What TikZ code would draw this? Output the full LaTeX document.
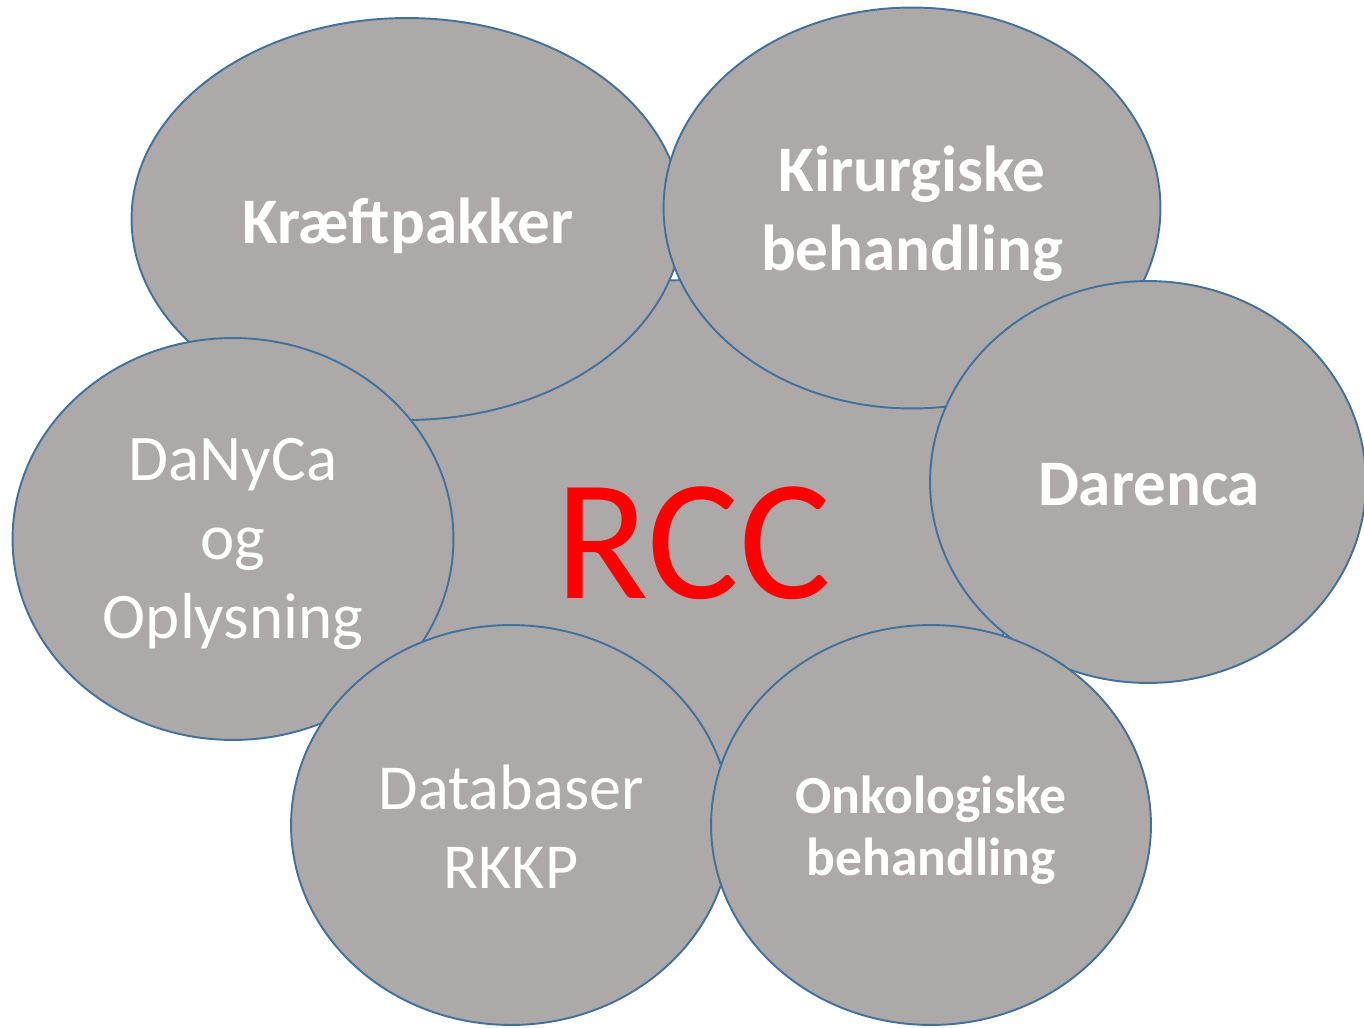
\documentclass[tikz,border=0pt]{standalone}
\usepackage{fontspec}
\setmainfont{Carlito}
\usetikzlibrary{shapes.geometric}
\definecolor{bubblegray}{RGB}{173,169,168}
\definecolor{bubbleblue}{RGB}{65,113,156}
\newcommand{\bigtxt}{\fontsize{37}{45}\selectfont}
\newcommand{\smalltxt}{\fontsize{30.5}{35.5}\selectfont}

\begin{document}
\begin{tikzpicture}[x=0.02cm, y=-0.02cm,
		bubble/.style={ellipse, draw=bubbleblue, line width=1.1pt, fill=bubblegray, inner sep=0pt},
		lbl/.style={align=center, text=white, inner sep=0pt},
		boldtxt/.style={lbl, font=\bigtxt\bfseries},
		plaintxt/.style={lbl, font=\bigtxt}]
		\useasboundingbox (0,0) rectangle (1364,1027);

		\node[bubble, minimum width=13.6cm, minimum height=10.2cm] (rcc) at (690,535) {};

		\node[bubble, minimum width=11.02cm, minimum height=8.04cm] (kraeft) at (407,219) {};
		\node[bubble, minimum width=9.94cm, minimum height=8.02cm] (kirurg) at (912,208) {};
		\node[bubble, minimum width=8.72cm, minimum height=8.04cm] (darenca) at (1148,482) {};
		\node[bubble, minimum width=8.82cm, minimum height=8.04cm] (danyca) at (233,539) {};
		\node[bubble, minimum width=8.8cm, minimum height=8.0cm] (database) at (511,825) {};
		\node[bubble, minimum width=8.8cm, minimum height=8.0cm] (onko) at (931,825) {};

		\node[lbl, text=red, font=\fontsize{98}{110}\selectfont] (rcctxt) at (693,543) {RCC};
		\node[boldtxt] (kraefttxt) at (408,226) {Kræftpakker};
		\node[boldtxt] (kirurgtxt) at (912,214) {Kirurgiske\\behandling};
		\node[boldtxt] (darencatxt) at (1149,485) {Darenca};
		\node[plaintxt] (danycatxt) at (233,544) {DaNyCa\\og\\Oplysning};
		\node[plaintxt, font=\fontsize{36.5}{45}\selectfont] (databasetxt) at (511,827) {Databaser\\RKKP};
		\node[lbl, font=\smalltxt\bfseries] (onkotxt) at (931,830) {Onkologiske\\behandling};
	\end{tikzpicture}
\end{document}
